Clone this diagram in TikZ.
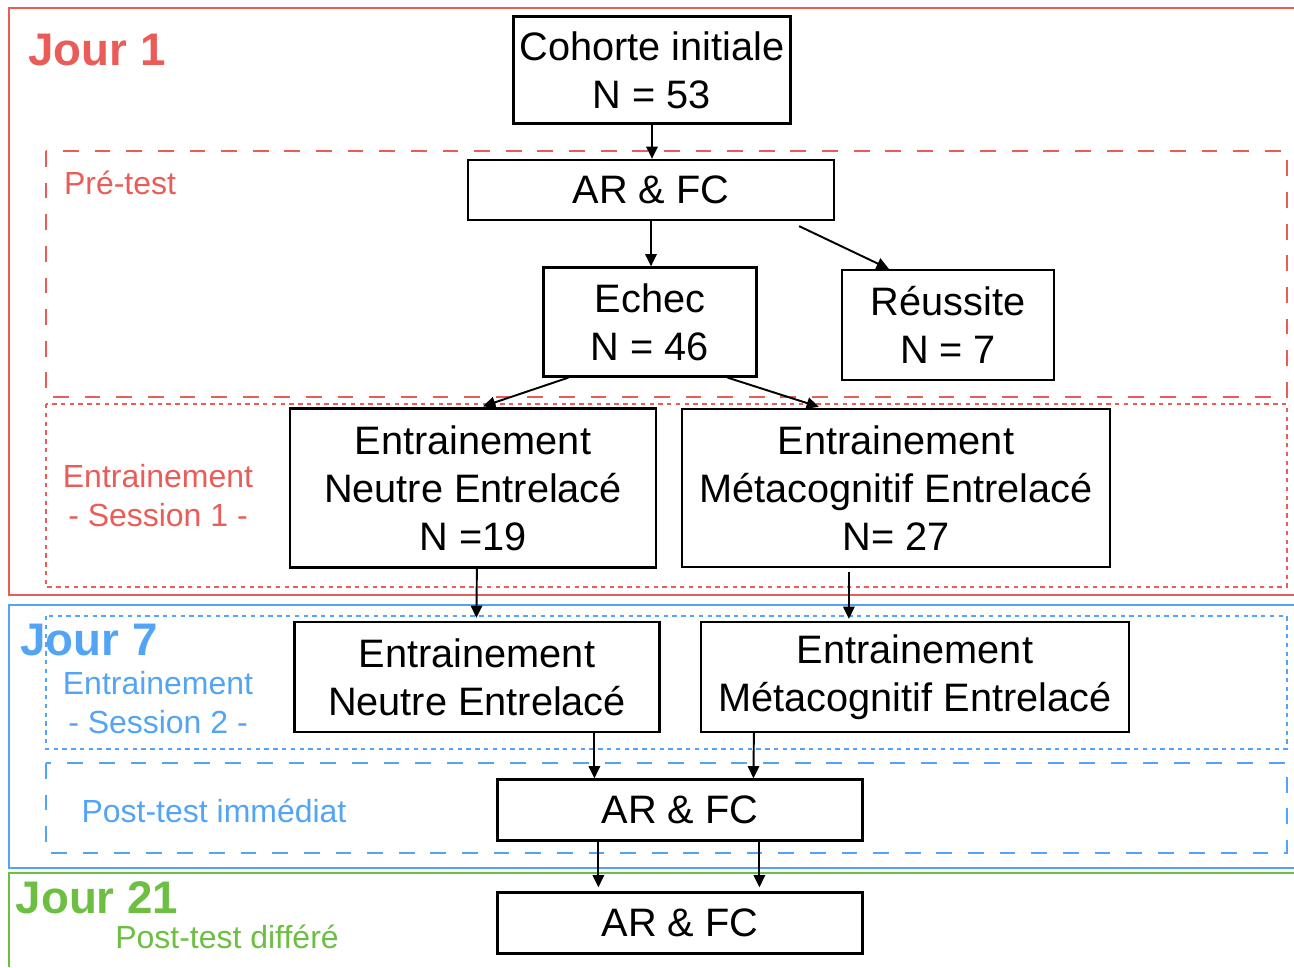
\documentclass[tikz,border=0pt]{standalone}
\usepackage{fontspec}
\setmainfont{Liberation Sans}
\usepackage{xcolor}
\usetikzlibrary{arrows.meta,calc}

\definecolor{jred}{RGB}{234,92,88}
\definecolor{jblue}{RGB}{84,164,246}
\definecolor{jgreen}{RGB}{109,191,67}

\begin{document}
\begin{tikzpicture}[x=0.02cm,y=-0.02cm,
  box/.style={draw,line width=1.3pt,align=center,inner sep=0pt,font=\fontsize{22.6}{27.3}\selectfont},
  lbl/.style={align=center,font=\fontsize{18.2}{22.2}\selectfont},
  jour/.style={font=\fontsize{26}{30}\selectfont\bfseries},
  arr/.style={-{Triangle[length=7pt,width=6.5pt]},line width=1.1pt},
  frame/.style={line width=1.1pt},
  dashbox/.style={line width=1pt,dash pattern=on 9pt off 9pt},
  dotbox/.style={line width=1pt,dash pattern=on 2.5pt off 2.5pt}]
\useasboundingbox (0,0) rectangle (1294,967);

% days
\draw[frame,jred] (1294,8) -- (9,8) -- (9,595) -- (1294,595);
\draw[frame,jblue] (1294,605) -- (9,605) -- (9,868) -- (1294,868);
\draw[frame,jgreen] (1294,873) -- (9,873) -- (9,967);

% phases
\draw[dashbox,jred] (46,151) rectangle (1287,397);
\draw[dotbox,jred] (46,404) rectangle (1287,587);
\draw[dotbox,jblue] (46,616) rectangle (1287,749);
\draw[dashbox,jblue] (46,763) rectangle (1287,853);

% labels
\node[jour,text=jred] (j1) at (97,50) {Jour 1};
\node[lbl,text=jred] (pre) at (120,183) {Pré-test};
\node[lbl,text=jred] (s1) at (158,496) {Entrainement\\- Session 1 -};
\node[jour,text=jblue] (j7) at (89,640) {Jour 7};
\node[lbl,text=jblue] (s2) at (158,703) {Entrainement\\- Session 2 -};
\node[lbl,text=jblue] (post) at (214,811) {Post-test immédiat};
\node[jour,text=jgreen] (j21) at (97,898) {Jour 21};
\node[lbl,text=jgreen] (diff) at (227,937) {Post-test différé};

% boxes
\node[box,minimum width=5.54cm,minimum height=2.14cm] (coh) at (652,70) {Cohorte initiale\\N = 53};
\node[box,minimum width=7.32cm,minimum height=1.2cm] (ar1) at (651,190) {AR \& FC};
\node[box,minimum width=4.26cm,minimum height=2.18cm] (echec) at (650,322) {Echec\\N = 46};
\node[box,minimum width=4.24cm,minimum height=2.2cm] (reus) at (948,325) {Réussite\\N = 7};
\node[box,minimum width=7.32cm,minimum height=3.18cm] (ene1) at (473,488) {Entrainement\\Neutre Entrelacé\\N =19};
\node[box,minimum width=8.56cm,minimum height=3.16cm] (eme1) at (896,488) {Entrainement\\Métacognitif Entrelacé\\N= 27};
\node[box,minimum width=7.3cm,minimum height=2.2cm] (ene2) at (477,677) {Entrainement\\Neutre Entrelacé};
\node[box,minimum width=8.56cm,minimum height=2.2cm] (eme2) at (915,677) {Entrainement\\Métacognitif Entrelacé};
\node[box,minimum width=7.3cm,minimum height=1.22cm] (ar2) at (680,810) {AR \& FC};
\node[box,minimum width=7.3cm,minimum height=1.22cm] (ar3) at (680,923) {AR \& FC};

% arrows
\draw[arr] (coh.south) -- (coh.south |- ar1.north);
\draw[arr] (ar1.south) -- (ar1.south |- echec.north);
\draw[arr] ($(ar1.south east)+(-36,5)$) -- ($(reus.north west)+(48,0)$);
\draw[arr] ($(echec.south west)+(26,0)$) -- ($(ene1.north)+(10,-1)$);
\draw[arr] ($(echec.south east)+(-30,0)$) -- ($(eme1.north west)+(138,-1)$);
\draw[arr] ($(ene1.south west)+(188,0)$) -- ($(ene2.north west)+(183,-3)$);
\draw[arr] ($(eme1.south west)+(168,4)$) -- ($(eme2.north west)+(149,-2)$);
\draw[arr] ($(ene2.south west)+(301,0)$) -- ($(ar2.north west)+(98,0)$);
\draw[arr] ($(eme2.south west)+(54,0)$) -- ($(ar2.north west)+(257,0)$);
\draw[arr] ($(ar2.south west)+(102,0)$) -- ($(ar3.north west)+(102,-4)$);
\draw[arr] ($(ar2.south west)+(263,0)$) -- ($(ar3.north west)+(263,-4)$);
\end{tikzpicture}
\end{document}
